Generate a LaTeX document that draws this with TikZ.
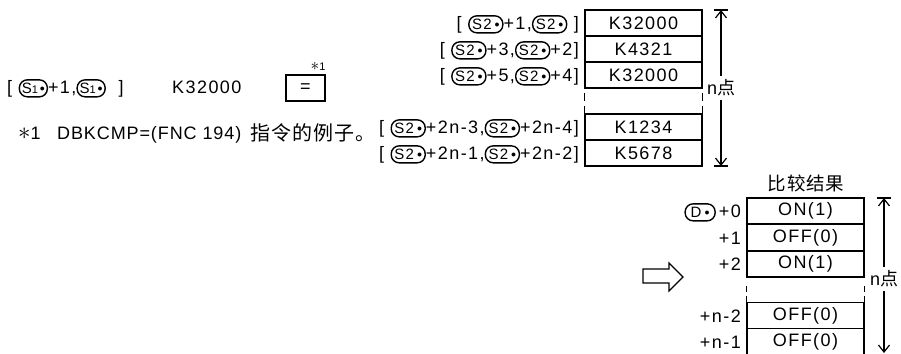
\documentclass[tikz,border=0pt]{standalone}
\usepackage{fontspec}
\setmainfont{Liberation Sans}[LetterSpace=8]
\newfontfamily\cjk{Noto Sans CJK SC}[LetterSpace=5]
\usetikzlibrary{arrows.meta}
\newcommand{\ovdot}{\raisebox{2pt}{\fontsize{10}{10}\selectfont$\bullet$}}
\newcommand{\ovl}[2]{\tikz[baseline=(ov.base)]\node[draw,anchor=center,line width=1.4pt,rounded corners=8pt,inner xsep=2pt,inner ysep=1.5pt,minimum height=17pt,minimum width=#1,font=\fontsize{15}{15}\selectfont](ov){#2};}
\newcommand{\Sone}{\ovl{28pt}{S{\fontsize{11}{11}\selectfont 1}\hspace{2pt}\ovdot}}
\newcommand{\Stwo}{\ovl{34pt}{S2\hspace{3pt}\ovdot}}
\newcommand{\Dn}{\ovl{30pt}{D\hspace{3pt}\ovdot}}
\begin{document}
\begin{tikzpicture}[x=1pt,y=-1pt,
  txt/.style={font=\fontsize{18}{20}\selectfont, inner sep=0pt},
  cell/.style={draw, line width=1.2pt, minimum width=117pt, minimum height=26pt, inner sep=0pt, font=\fontsize{18}{20}\selectfont},
  lbl/.style={txt, anchor=base east},
  tbl/.style={line width=1.2pt},
  dim/.style={line width=1.2pt, -{Straight Barb[length=7pt,width=11pt]}},
  bar/.style={line width=1.2pt},
  nlbl/.style={font=\fontsize{18}{20}\selectfont, fill=white, inner xsep=1pt, inner ysep=4pt}
]
\useasboundingbox (0,0) rectangle (901,353);

% left part
\node[txt, anchor=base west] (s1) at (7,93.5) {[ \Sone+1,\Sone\ \ ]};
\node[txt, anchor=base west] (kv) at (172,93.5) {K32000};
\node[draw, line width=1.2pt, minimum width=39pt, minimum height=26pt, inner sep=0pt, font=\fontsize{18}{20}\selectfont] (eq) at (305.5,88) {=};
\node[font=\fontsize{11}{11}\selectfont, inner sep=0pt] (st) at (318,66) {{\fontsize{16}{16}\selectfont$\ast$}1};
\node[txt, anchor=base west] (fn1) at (18,139.5) {{\fontsize{24}{24}\selectfont$\ast$}1};
\node[txt, anchor=base west, font=\fontsize{18}{20}\selectfont\addfontfeature{LetterSpace=5}] (fn2) at (57,139.5) {DBKCMP=(FNC 194)};
\node[txt, anchor=base west, font=\cjk\fontsize{20}{22}\selectfont] (fn3) at (250,140) {指令的例子。};

% top table
\node[cell] (k1) at (643.5,23) {K32000};
\node[cell] (k2) at (643.5,49) {K4321};
\node[cell] (k3) at (643.5,75) {K32000};
\node[cell] (k4) at (643.5,127) {K1234};
\node[cell] (k5) at (643.5,153) {K5678};
\draw[tbl] (k3.south west) ++(0,4) -- ++(0,8) ++(0,5) -- ++(0,8);
\draw[tbl] (k3.south east) ++(0,4) -- ++(0,8) ++(0,5) -- ++(0,8);

\node[lbl] (a1) at (579,29.5) {[ \Stwo+1,\Stwo\ ]};
\node[lbl] (a2) at (579,55.5) {[ \Stwo+3,\Stwo+2]};
\node[lbl] (a3) at (579,81.5) {[ \Stwo+5,\Stwo+4]};
\node[lbl] (a4) at (579,133.5) {[ \Stwo+2n-3,\Stwo+2n-4]};
\node[lbl] (a5) at (579,159.5) {[ \Stwo+2n-1,\Stwo+2n-2]};

% top dimension
\node[nlbl] (n1) at (721,88) {n{\cjk 点}};
\coordinate (t1) at (721,10);
\coordinate (b1) at (721,166);
\draw[dim] (n1) -- (t1);
\draw[dim] (n1) -- (b1);
\draw[bar] ([xshift=-7pt]t1) -- ([xshift=7pt]t1);
\draw[bar] ([xshift=-7pt]b1) -- ([xshift=7pt]b1);

% hollow arrow
\draw[line width=1.2pt] (643,269) -- (669,269) -- (669,263) -- (683,277) -- (669,291) -- (669,283) -- (643,283) -- cycle;

% bottom table
\node[font=\cjk\fontsize{18.5}{20}\selectfont, inner sep=0pt] (hd) at (806,183) {比较结果};
\node[cell] (c1) at (805.5,211) {ON(1)};
\node[cell] (c2) at (805.5,237.5) {OFF(0)};
\node[cell] (c3) at (805.5,264) {ON(1)};
\node[cell] (c4) at (805.5,315.5) {OFF(0)};
\node[cell] (c5) at (805.5,341.5) {OFF(0)};
\draw[tbl] (c3.south west) ++(0,8) -- ++(0,6) ++(0,4) -- ++(0,8);
\draw[tbl] (c3.south east) ++(0,8) -- ++(0,6) ++(0,4) -- ++(0,8);

\node[lbl] (d1) at (741,217.5) {\Dn\,+0};
\node[lbl] (d2) at (741,244) {+1};
\node[lbl] (d3) at (741,270.5) {+2};
\node[lbl] (d4) at (741,322) {+n-2};
\node[lbl] (d5) at (741,348) {+n-1};

% bottom dimension
\node[nlbl] (n2) at (884,279) {n{\cjk 点}};
\coordinate (t2) at (884,198);
\coordinate (b2) at (884,353);
\draw[dim] (n2) -- (t2);
\draw[dim] (n2) -- (b2);
\draw[bar] ([xshift=-7pt]t2) -- ([xshift=7pt]t2);
\end{tikzpicture}
\end{document}
